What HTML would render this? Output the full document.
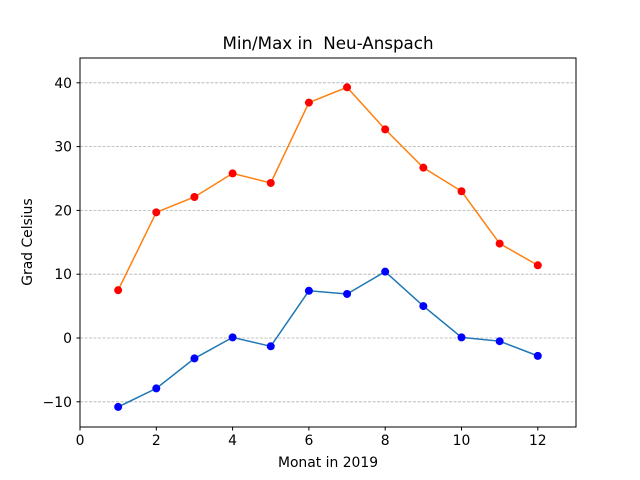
<!DOCTYPE html>
<html><head><meta charset="utf-8"><style>
html,body{margin:0;padding:0;background:#fff;width:640px;height:480px;overflow:hidden}
text{font-family:"DejaVu Sans","Liberation Sans",sans-serif;fill:#000}
</style></head><body>
<svg id="s" width="640" height="480" xmlns="http://www.w3.org/2000/svg">
<rect width="640" height="480" fill="#fff"/>
<g id="grid"></g>
<g id="series"></g>
<rect x="80" y="58" width="496" height="369" fill="none" stroke="#000" stroke-width="1"/>
<g id="ticks"></g>
<text x="328" y="49" font-size="16.7" text-anchor="middle" xml:space="preserve">Min/Max in  Neu-Anspach</text>
<text x="328" y="467" font-size="13.9" text-anchor="middle">Monat in 2019</text>
<text x="32" y="242" font-size="13.9" text-anchor="middle" transform="rotate(-90 32 242)">Grad Celsius</text>
</svg>
<script>
var X=function(m){return 80+38.15*m},Y=function(v){return 338-v*6.38};
var g=document.getElementById('grid'),t=document.getElementById('ticks'),s=document.getElementById('series'),h='',tk='';
[-10,0,10,20,30,40].forEach(function(v){var y=Y(v);h+='<line x1="80" x2="576" y1="'+y+'" y2="'+y+'" stroke="#b0b0b0" stroke-width="0.8" stroke-dasharray="3,1.5"/>';
tk+='<line x1="76.5" x2="80" y1="'+y+'" y2="'+y+'" stroke="#000"/><text x="72" y="'+(y+5)+'" text-anchor="end" font-size="13.9">'+(v<0?'\u2212'+(-v):v)+'</text>';});
[0,2,4,6,8,10,12].forEach(function(m){var x=X(m);tk+='<line x1="'+x+'" x2="'+x+'" y1="427" y2="430.5" stroke="#000"/><text x="'+x+'" y="445" text-anchor="middle" font-size="13.9">'+m+'</text>';});
g.innerHTML=h;t.innerHTML=tk;
var mx=[7.5,19.7,22.1,25.8,24.3,36.9,39.3,32.7,26.7,23.0,14.8,11.4];
var mn=[-10.8,-7.9,-3.2,0.1,-1.3,7.4,6.9,10.4,5.0,0.1,-0.5,-2.8];
function ser(d,lc,mc){var p=d.map(function(v,i){return X(i+1)+','+Y(v)}).join(' ');
var o='<polyline points="'+p+'" fill="none" stroke="'+lc+'" stroke-width="1.5"/>';
d.forEach(function(v,i){o+='<circle cx="'+X(i+1)+'" cy="'+Y(v)+'" r="4" fill="'+mc+'"/>'});return o;}
s.innerHTML=ser(mn,'#1f77b4','#0000ff')+ser(mx,'#ff7f0e','#ff0000');
</script>
</body></html>
